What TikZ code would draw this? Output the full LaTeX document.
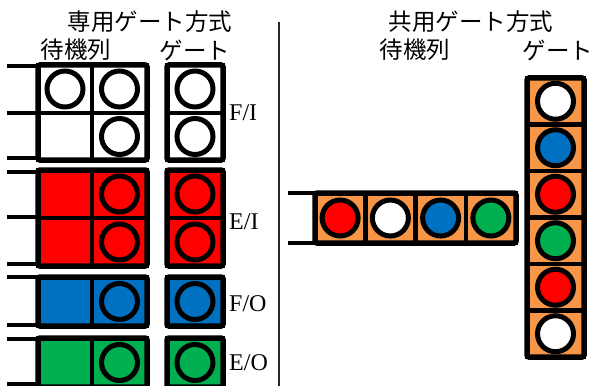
\documentclass[tikz,border=0pt]{standalone}
\usepackage{fontspec}
\setmainfont{Liberation Serif}
\newfontfamily\jp{Noto Sans CJK JP}
\usetikzlibrary{fit}

\definecolor{qred}{HTML}{FF0000}
\definecolor{qblue}{HTML}{0070C0}
\definecolor{qgreen}{HTML}{00B050}
\definecolor{qorange}{HTML}{F79646}

\tikzset{
  cell/.style={draw, line width=4.5pt, inner sep=0pt, outer sep=0pt, anchor=north west},
  frame/.style={draw, line width=5.5pt, rounded corners=2pt, inner sep=0pt, outer sep=0pt},
  ball/.style={circle, draw, line width=5pt, inner sep=0pt, minimum size=36pt},
  wall/.style={line width=4.5pt},
  sepline/.style={line width=1.3pt, black!85},
  title/.style={font=\jp\fontsize{23.5}{24}\selectfont, inner sep=0pt},
  lab/.style={font=\fontsize{24}{24}\selectfont, inner sep=0pt, anchor=west},
}

\begin{document}
\begin{tikzpicture}[x=1pt, y=-1pt]
\useasboundingbox (0,0) rectangle (593,385);

% ---------- headings ----------
\node[title] (tDed) at (150,22) {専用ゲート方式};
\node[title] (tDedQ) at (76,50) {待機列};
\node[title] (tDedG) at (195,50) {ゲート};
\node[title] (tSha) at (471,22) {共用ゲート方式};
\node[title] (tShaQ) at (415,50) {待機列};
\node[title] (tShaG) at (558,50) {ゲート};

% separator
\coordinate (sepTop) at (279,22);
\coordinate (sepBot) at (279,386);
\draw[sepline] (sepTop) -- (sepBot);

% ---------- dedicated gates: F/I ----------
\node[cell, fill=white, minimum width=54pt, minimum height=48pt] (fiA) at (38,65) {};
\node[cell, fill=white, minimum width=55pt, minimum height=48pt] (fiB) at (92,65) {};
\node[cell, fill=white, minimum width=54pt, minimum height=47pt] (fiC) at (38,113) {};
\node[cell, fill=white, minimum width=55pt, minimum height=47pt] (fiD) at (92,113) {};
\node[ball, fill=white] (fiBa) at (fiA) {};
\node[ball, fill=white] (fiBb) at (fiB) {};
\node[ball, fill=white] (fiBd) at (fiD) {};
\node[frame, fit=(fiA)(fiD)] (qFI) {};
\node[cell, fill=white, minimum width=56pt, minimum height=48pt] (fgA) at (167,65) {};
\node[cell, fill=white, minimum width=56pt, minimum height=47pt] (fgB) at (167,113) {};
\node[ball, fill=white] (fgBa) at (fgA) {};
\node[ball, fill=white] (fgBb) at (fgB) {};
\node[frame, fit=(fgA)(fgB)] (gFI) {};
\node[lab] (lFI) at ([xshift=6pt]gFI.east) {F/I};
\draw[wall] ([yshift=-1pt]qFI.north west) -- ++(-31,0);
\draw[wall] (fiC.north west) -- ++(-31,0);
\draw[wall] ([yshift=2pt]qFI.south west) -- ++(-31,0);

% ---------- dedicated gates: E/I ----------
\node[cell, fill=qred, minimum width=54pt, minimum height=48pt] (eiA) at (38,170) {};
\node[cell, fill=qred, minimum width=55pt, minimum height=48pt] (eiB) at (92,170) {};
\node[cell, fill=qred, minimum width=54pt, minimum height=48pt] (eiC) at (38,218) {};
\node[cell, fill=qred, minimum width=55pt, minimum height=48pt] (eiD) at (92,218) {};
\node[ball, fill=qred] (eiBb) at (eiB) {};
\node[ball, fill=qred] (eiBd) at (eiD) {};
\node[frame, fit=(eiA)(eiD)] (qEI) {};
\node[cell, fill=qred, minimum width=56pt, minimum height=48pt] (egA) at (167,170) {};
\node[cell, fill=qred, minimum width=56pt, minimum height=48pt] (egB) at (167,218) {};
\node[ball, fill=qred] (egBa) at (egA) {};
\node[ball, fill=qred] (egBb) at (egB) {};
\node[frame, fit=(egA)(egB)] (gEI) {};
\node[lab] (lEI) at ([xshift=6pt, yshift=-4pt]gEI.east) {E/I};
\draw[wall] ([yshift=-2pt]qEI.north west) -- ++(-31,0);
\draw[wall] ([yshift=1pt]eiC.north west) -- ++(-31,0);
\draw[wall] ([yshift=2pt]qEI.south west) -- ++(-31,0);

% ---------- dedicated gates: F/O ----------
\node[cell, fill=qblue, minimum width=54pt, minimum height=49pt] (foA) at (38,277) {};
\node[cell, fill=qblue, minimum width=55pt, minimum height=49pt] (foB) at (92,277) {};
\node[ball, fill=qblue] (foBb) at (foB) {};
\node[frame, fit=(foA)(foB)] (qFO) {};
\node[cell, fill=qblue, minimum width=56pt, minimum height=49pt] (fogA) at (167,277) {};
\node[ball, fill=qblue] (fogBa) at (fogA) {};
\node[frame, fit=(fogA)] (gFO) {};
\node[lab] (lFO) at ([xshift=6pt, yshift=-2pt]gFO.east) {F/O};
\draw[wall] (qFO.north west) -- ++(-31,0);
\draw[wall] ([yshift=1pt]qFO.south west) -- ++(-31,0);

% ---------- dedicated gates: E/O ----------
\node[cell, fill=qgreen, minimum width=54pt, minimum height=49pt] (eoA) at (38,338) {};
\node[cell, fill=qgreen, minimum width=55pt, minimum height=49pt] (eoB) at (92,338) {};
\node[ball, fill=qgreen] (eoBb) at (eoB) {};
\node[frame, fit=(eoA)(eoB)] (qEO) {};
\node[cell, fill=qgreen, minimum width=56pt, minimum height=49pt] (eogA) at (167,338) {};
\node[ball, fill=qgreen] (eogBa) at (eogA) {};
\node[frame, fit=(eogA)] (gEO) {};
\node[lab] (lEO) at ([xshift=6pt]gEO.east) {E/O};
\draw[wall] ([yshift=-1pt]qEO.north west) -- ++(-31,0);
\draw[wall] ([yshift=3pt]qEO.south west) -- ++(-31,0);

% ---------- shared gate: queue ----------
\node[cell, fill=qorange, minimum width=50.25pt, minimum height=50pt] (sqA) at (315,193) {};
\node[cell, fill=qorange, minimum width=50.25pt, minimum height=50pt] (sqB) at (365.25,193) {};
\node[cell, fill=qorange, minimum width=50.25pt, minimum height=50pt] (sqC) at (415.5,193) {};
\node[cell, fill=qorange, minimum width=50.25pt, minimum height=50pt] (sqD) at (465.75,193) {};
\node[ball, fill=qred] (sqBa) at (sqA) {};
\node[ball, fill=white] (sqBb) at (sqB) {};
\node[ball, fill=qblue] (sqBc) at (sqC) {};
\node[ball, fill=qgreen] (sqBd) at (sqD) {};
\node[frame, fit=(sqA)(sqD)] (qSh) {};
\draw[wall] (qSh.north west) -- ++(-27,0);
\draw[wall] (qSh.south west) -- ++(-27,0);

% ---------- shared gate: gate column ----------
\node[cell, fill=qorange, minimum width=57pt, minimum height=46.5pt] (sgA) at (527,78) {};
\node[cell, fill=qorange, minimum width=57pt, minimum height=46.5pt] (sgB) at (527,124.5) {};
\node[cell, fill=qorange, minimum width=57pt, minimum height=46.5pt] (sgC) at (527,171) {};
\node[cell, fill=qorange, minimum width=57pt, minimum height=46.5pt] (sgD) at (527,217.5) {};
\node[cell, fill=qorange, minimum width=57pt, minimum height=46.5pt] (sgE) at (527,264) {};
\node[cell, fill=qorange, minimum width=57pt, minimum height=46.5pt] (sgF) at (527,310.5) {};
\node[ball, fill=white] (sgBa) at (sgA) {};
\node[ball, fill=qblue] (sgBb) at (sgB) {};
\node[ball, fill=qred] (sgBc) at (sgC) {};
\node[ball, fill=qgreen] (sgBd) at (sgD) {};
\node[ball, fill=qred] (sgBe) at (sgE) {};
\node[ball, fill=white] (sgBf) at (sgF) {};
\node[frame, fit=(sgA)(sgF)] (gSh) {};
\end{tikzpicture}
\end{document}
